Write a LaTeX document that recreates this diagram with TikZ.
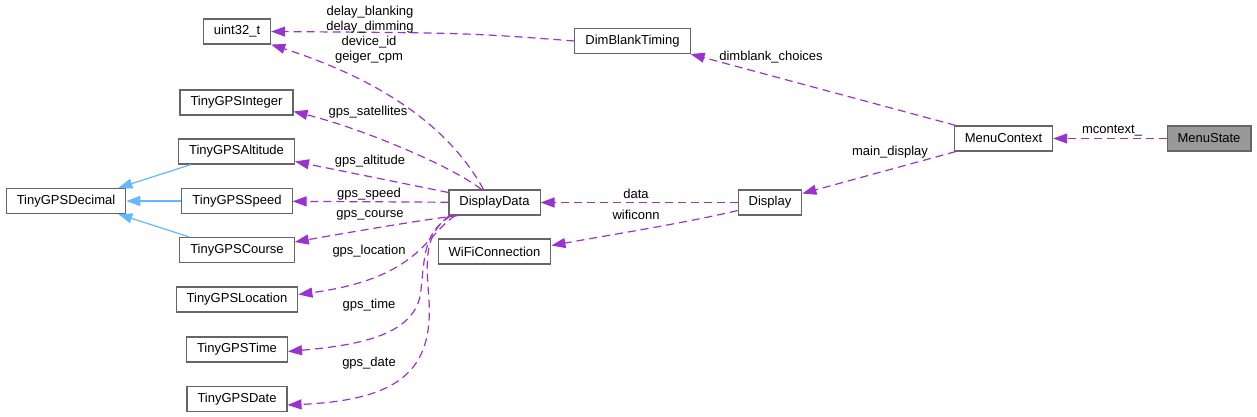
\documentclass[tikz,border=0pt]{standalone}
\usepackage{fontspec}
\setmainfont{Liberation Sans}
\usetikzlibrary{arrows.meta}
\definecolor{boxgrey}{HTML}{666666}
\definecolor{membercol}{HTML}{9A32CD}
\definecolor{inheritcol}{HTML}{63B8FF}
\definecolor{rootfill}{HTML}{999999}

\begin{document}
\begin{tikzpicture}[x=1pt, y=-1pt,
    font=\fontsize{13}{15}\selectfont,
    cls/.style = {rectangle,
        draw=boxgrey, line width=1.1pt,
        fill=white,
        minimum height=25pt,
        inner xsep=10.5pt, inner ysep=0pt},
    root/.style = {cls, fill=rootfill},
    member/.style = {membercol, line width=1.2pt,
        dash pattern=on 8pt off 5pt,
        -{Triangle[length=14pt,width=10pt]}},
    inherit/.style = {inheritcol, line width=1.2pt,
        -{Triangle[length=14pt,width=10pt]}},
    lbl/.style = {inner sep=0pt, align=center}]

\useasboundingbox (0,0) rectangle (1257,417);

% Member types
\node[cls] (uint32) at (237,31.5) {uint32\_t};
\node[cls] (dimblank) at (632.5,41) {DimBlankTiming};
\node[cls] (integer) at (236.5,102.5) {TinyGPSInteger};
\node[cls] (altitude) at (236.5,151.5) {TinyGPSAltitude};
\node[cls] (decimal) at (66,201) {TinyGPSDecimal};
\node[cls] (speed) at (237,201) {TinyGPSSpeed};
\node[cls] (course) at (237,250) {TinyGPSCourse};
\node[cls] (location) at (237,299.5) {TinyGPSLocation};
\node[cls] (time) at (237,349.5) {TinyGPSTime};
\node[cls] (date) at (237,399) {TinyGPSDate};

% Classes
\node[cls] (displaydata) at (494.5,202.5) {DisplayData};
\node[cls] (wifi) at (494.5,251.5) {WiFiConnection};
\node[cls] (display) at (770,202.5) {Display};
\node[cls] (menucontext) at (1003.5,138.5) {MenuContext};
\node[root] (menustate) at (1209,138.5) {MenuState};

% Inheritance
\draw[inherit] ([xshift=13pt]altitude.south west) -- ([xshift=-8pt]decimal.north east);
\draw[inherit] (speed) -- (decimal);
\draw[inherit] ([xshift=10pt]course.north west) -- ([xshift=-8pt]decimal.south east);

% Members of MenuState and MenuContext
\draw[member] (menustate) -- (menucontext);
\draw[member] ([xshift=2pt]menucontext.north west) -- (dimblank.south east);
\draw[member] ([xshift=2pt]menucontext.south west) -- ([yshift=9pt]display.east);
\draw[member] (dimblank.west) .. controls (470,33) .. (uint32.east);

% Members of Display
\draw[member] (display) -- (displaydata);
\draw[member] ([yshift=-8pt]display.west) .. controls (690,222) and (610,235) .. ([yshift=6pt]wifi.east);

% Members of DisplayData
\draw[member] ([xshift=-11pt]displaydata.north) .. controls (440,110) and (350,70) .. (uint32.south east);
\draw[member] ([xshift=-13pt]displaydata.north) .. controls (450,165) and (360,128) .. ([yshift=-9pt]integer.east);
\draw[member] ([yshift=10pt]displaydata.west) -- ([yshift=-10pt]altitude.east);
\draw[member] (displaydata) -- (speed);
\draw[member] ([xshift=10pt]displaydata.south west) .. controls (420,220) and (340,234) .. ([yshift=8pt]course.east);
\draw[member] ([xshift=7pt]displaydata.south west) .. controls (425,235) and (420,278) .. ([yshift=5pt]location.east);
\draw[member] ([xshift=3pt]displaydata.south west) .. controls (425,232) and (425,250) .. (421,290)
    .. controls (417,335) and (360,345) .. ([yshift=-2pt]time.east);
\draw[member] ([xshift=1pt]displaydata.south west) .. controls (424,235) and (426,260) .. (429,300)
    .. controls (433,370) and (400,400) .. ([yshift=-6pt]date.east);

% Labels
\node[lbl] (lblblank) at (370,19.5) {delay\_blanking\\delay\_dimming};
\node[lbl] (lbldevice) at (369,50) {device\_id\\geiger\_cpm};
\node[lbl] (lblsat) at (368,112) {gps\_satellites};
\node[lbl] (lblalt) at (370,161) {gps\_altitude};
\node[lbl] (lblspeed) at (369,194) {gps\_speed};
\node[lbl] (lblcourse) at (370,215) {gps\_course};
\node[lbl] (lblloc) at (369,251) {gps\_location};
\node[lbl] (lbltime) at (369,305) {gps\_time};
\node[lbl] (lbldate) at (369,363) {gps\_date};
\node[lbl] (lbldata) at (636,194) {data};
\node[lbl] (lblwifi) at (636,215) {wificonn};
\node[lbl] (lblmain) at (890,152) {main\_display};
\node[lbl] (lbldim) at (771,57) {dimblank\_choices};
\node[lbl] (lblmctx) at (1112,131) {mcontext\_};

\end{tikzpicture}
\end{document}
